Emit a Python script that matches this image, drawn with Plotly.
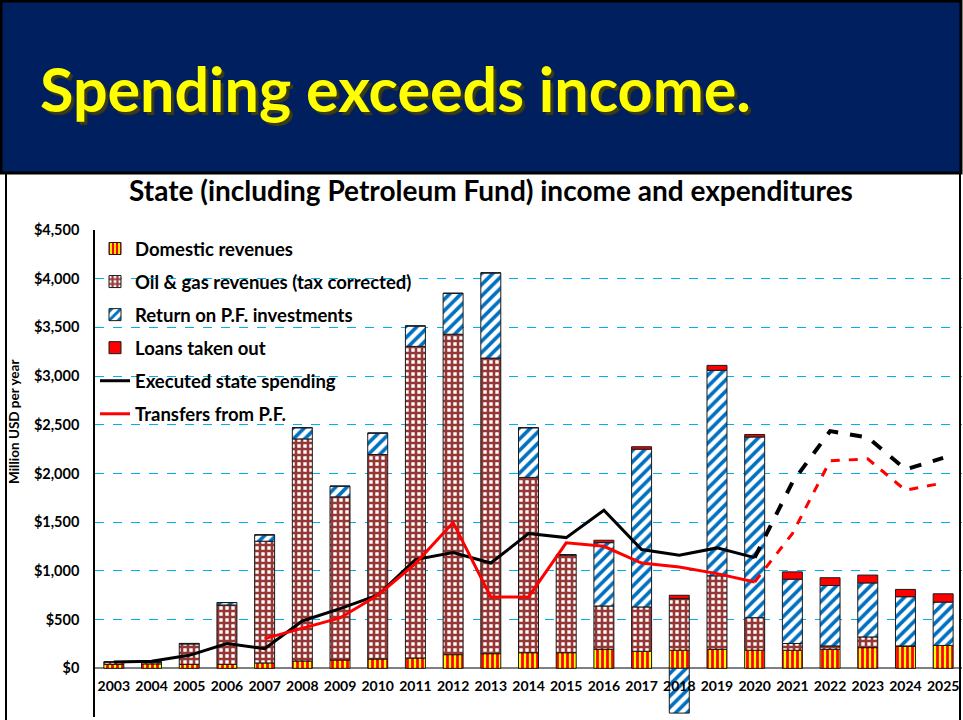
import plotly.graph_objects as go

years = [str(y) for y in range(2003, 2026)]
domestic = [40, 45, 40, 40, 55, 75, 85, 95, 105, 140, 150, 160, 160, 195, 175, 185, 195, 185, 185, 195, 212, 225, 235]
oil_gas = [25, 20, 210, 610, 1250, 2280, 1675, 2100, 3200, 3290, 3035, 1800, 1005, 445, 455, 530, 755, 335, 70, 35, 110, 5, 0]
pf_return = [0, 0, 5, 25, 65, 115, 110, 220, 210, 420, 875, 510, 0, 650, 1620, -460, 2110, 1855, 660, 620, 555, 505, 445]
loans = [0, 0, 0, 0, 0, 0, 0, 0, 0, 0, 0, 0, 0, 25, 25, 35, 50, 25, 75, 80, 80, 75, 85]
spending = [65, 72, 133, 254, 202, 486, 613, 750, 1116, 1188, 1081, 1383, 1342, 1623, 1219, 1160, 1236, 1136,
            1910, 2435, 2370, 2042, 2160]
transfers = [None, None, None, None, 305, 408, 517, 750, 1075, 1497, 733, 733, 1288, 1253, 1081, 1040, 972, 886,
             1383, 2130, 2150, 1828, 1903]
last_actual = "2020"
ytick_vals = [-500, 0, 500, 1000, 1500, 2000, 2500, 3000, 3500, 4000, 4500]
ytick_text = ["-$500", "$0", "$500", "$1,000", "$1,500", "$2,000", "$2,500", "$3,000", "$3,500", "$4,000", "$4,500"]

W, H = 963, 720
ML, MR, MT, MB = 95, 1, 230, 3
PW, PH = W - ML - MR, H - MT - MB
YMIN, YMAX = -500, 4500


def px(x):
    return (x - ML) / PW


def py(y):
    return (H - MB - y) / PH


cut = years.index(last_actual)
FONT = "Lato"

fig = go.Figure()
edge = dict(color="#1a1a1a", width=1)
fig.add_bar(x=years, y=domestic, name="Domestic revenues", legendgroup="a",
            marker=dict(color="#FFFF00", line=edge,
                        pattern=dict(shape="|", fgcolor="#FF0000", bgcolor="#FFFF00", fgopacity=1,
                                     fillmode="replace", size=5, solidity=0.55)))
fig.add_bar(x=years, y=oil_gas, name="Oil & gas revenues (tax corrected)", legendgroup="b",
            marker=dict(color="#953735", line=edge,
                        pattern=dict(shape="+", fgcolor="#953735", bgcolor="#FFFFFF", fgopacity=1,
                                     fillmode="replace", size=6, solidity=0.68)))
fig.add_bar(x=years, y=pf_return, name="Return on P.F. investments", legendgroup="c",
            marker=dict(color="#0070C0", line=edge,
                        pattern=dict(shape="/", fgcolor="#0070C0", bgcolor="#FFFFFF", fgopacity=1,
                                     fillmode="replace", size=8, solidity=0.45)))
fig.add_bar(x=years, y=loans, name="Loans taken out", legendgroup="d",
            marker=dict(color="#FF0000", line=edge))
fig.add_scatter(x=years[:cut + 1], y=spending[:cut + 1], mode="lines", name="Executed state spending",
                legendgroup="e", line=dict(color="#000000", width=3))
fig.add_scatter(x=years[cut:], y=spending[cut:], mode="lines", showlegend=False,
                legendgroup="e", line=dict(color="#000000", width=4, dash="dash"))
fig.add_scatter(x=years[:cut + 1], y=transfers[:cut + 1], mode="lines", name="Transfers from P.F.",
                legendgroup="f", line=dict(color="#FF0000", width=3))
fig.add_scatter(x=years[cut:], y=transfers[cut:], mode="lines", showlegend=False,
                legendgroup="f", line=dict(color="#FF0000", width=3, dash="dash"))

shapes = [
    dict(type="rect", xref="paper", yref="paper", x0=px(1), x1=px(961), y0=py(173), y1=py(1),
         fillcolor="#001F5F", line=dict(color="#000000", width=3), layer="below"),
    dict(type="line", xref="paper", yref="paper", x0=px(6), x1=px(6), y0=py(173), y1=py(720),
         line=dict(color="#000000", width=2)),
    dict(type="line", xref="paper", yref="paper", x0=px(960), x1=px(960), y0=py(173), y1=py(720),
         line=dict(color="#000000", width=2)),
]

annotations = [
    dict(text="Spending exceeds income.", xref="paper", yref="paper", x=px(38), y=py(88),
         xanchor="left", yanchor="middle", showarrow=False,
         font=dict(family=FONT, size=61, color="#FFFF00", weight="bold",
                   shadow="3px 3px 1px #3c3c14")),
    dict(text="State (including Petroleum Fund) income and expenditures", xref="paper", yref="paper",
         x=px(491), y=py(190), xanchor="center", yanchor="middle", showarrow=False,
         font=dict(family=FONT, size=28, color="#000000", weight="bold")),
    dict(text="Million USD per year", xref="paper", yref="paper", x=px(14), y=py(422), textangle=-90,
         xanchor="center", yanchor="middle", showarrow=False,
         font=dict(family=FONT, size=13.5, color="#000000", weight="bold")),
]

fig.update_layout(
    width=W, height=H, margin=dict(l=ML, r=MR, t=MT, b=MB, pad=0),
    paper_bgcolor="#FFFFFF", plot_bgcolor="#FFFFFF",
    barmode="relative", bargap=0.47,
    shapes=shapes, annotations=annotations,
    font=dict(family=FONT, color="#000000"),
    legend=dict(x=px(95), y=py(230), xanchor="left", yanchor="top", bgcolor="rgba(0,0,0,0)",
                traceorder="grouped", tracegroupgap=6,
                font=dict(family=FONT, size=18.5, color="#000000", weight="bold")),
    xaxis=dict(type="category", anchor="free", position=(0 - YMIN) / (YMAX - YMIN),
               showgrid=False, showline=False, ticks="", ticklabelstandoff=8,
               tickfont=dict(family=FONT, size=14, color="#000000", weight="bold")),
    yaxis=dict(range=[YMIN, YMAX], tickvals=ytick_vals, ticktext=ytick_text,
               showgrid=True, gridcolor="#00B0F0", griddash="dash", gridwidth=1,
               zeroline=True, zerolinecolor="#808080", zerolinewidth=2,
               showline=True, linecolor="#000000", linewidth=1.5, ticks="", ticklabelstandoff=11,
               tickfont=dict(family=FONT, size=14.5, color="#000000", weight="bold")),
)

fig.write_html("out.html")
